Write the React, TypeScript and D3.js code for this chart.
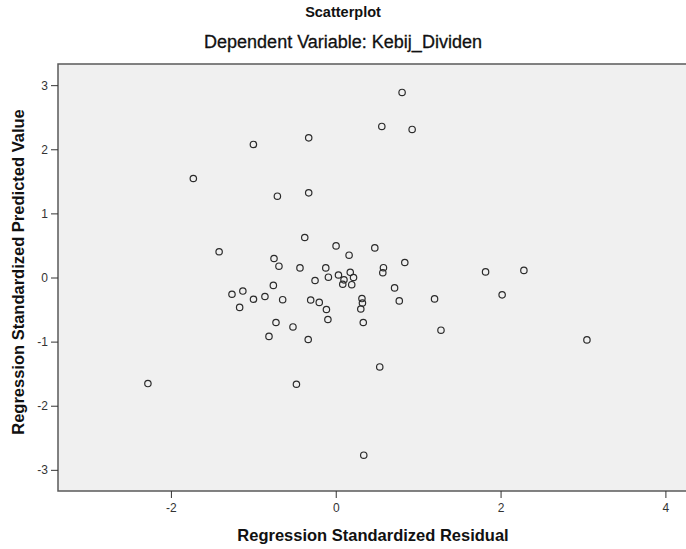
import React, { useEffect, useRef } from 'react';
import * as d3 from 'd3';

// Regression Standardized Residual (x) vs Regression Standardized Predicted Value (y)
const residuals: number[] = [
    -1.728, -1.415, 0.805, 0.559, 0.927, -0.328, -0.999, -0.708, -0.328, -0.376,
    0.004, 0.474, 0.162, -0.749, -0.689, -0.434, -0.121, 0.579, 0.571, 0.838,
    1.818, 2.283, -2.279, -1.259, -1.166, -0.251, -0.089, 0.033, 0.176, 0.216,
    0.100, 0.085, 0.194, -0.757, -1.127, -0.998, -0.859, -0.644, -0.304, -0.200,
    -0.113, -0.095, 0.318, 0.324, 0.304, 0.334, 0.714, 0.771, 1.199, 1.277,
    -0.725, -0.519, -0.810, -0.334, 0.534, -0.477, 0.340, 2.019, 3.048,
];
const predicted: number[] = [
    1.544, 0.402, 2.886, 2.356, 2.309, 2.178, 2.075, 1.268, 1.320, 0.624,
    0.493, 0.462, 0.348, 0.296, 0.176, 0.150, 0.150, 0.153, 0.075, 0.234,
    0.087, 0.111, -1.654, -0.261, -0.466, -0.047, 0.005, 0.039, 0.080, 0.000,
    -0.037, -0.105, -0.112, -0.123, -0.211, -0.339, -0.296, -0.346, -0.351, -0.388,
    -0.499, -0.655, -0.328, -0.398, -0.491, -0.702, -0.162, -0.365, -0.334, -0.822,
    -0.702, -0.771, -0.919, -0.967, -1.395, -1.665, -2.772, -0.271, -0.973,
];
const xTicks = [-2, 0, 2, 4];
const yTicks = [-3, -2, -1, 0, 1, 2, 3];

const App: React.FC = () => {
    const svgRef = useRef<SVGSVGElement>(null);

    useEffect(() => {
        if (!svgRef.current) return;
        const svg = d3.select(svgRef.current);
        svg.selectAll('*').remove();

        const width = 686;
        const height = 549;
        const margin = { top: 64, right: 0, bottom: 58, left: 58 };
        const font = 'Arial, "Liberation Sans", sans-serif';

        const x = d3.scaleLinear().domain([-3.37, 4.25]).range([margin.left, width - margin.right]);
        const y = d3.scaleLinear().domain([-3.33, 3.33]).range([height - margin.bottom, margin.top]);

        svg.append('rect').attr('width', width).attr('height', height).attr('fill', '#ffffff');

        // plot background
        svg.append('rect')
            .attr('x', margin.left)
            .attr('y', margin.top)
            .attr('width', width - margin.left + 10)
            .attr('height', y(-3.33) - y(3.33))
            .attr('fill', '#f0f0f0')
            .attr('stroke', '#5a5a5a')
            .attr('stroke-width', 1.5);

        // titles
        svg.append('text')
            .attr('x', 343).attr('y', 17)
            .attr('text-anchor', 'middle')
            .attr('fill', '#111')
            .style('font-family', font).style('font-weight', 'bold').style('font-size', '14.5px')
            .text('Scatterplot');
        svg.append('text')
            .attr('x', 343).attr('y', 48)
            .attr('text-anchor', 'middle')
            .attr('fill', '#111')
            .attr('stroke', '#111')
            .attr('stroke-width', 0.3)
            .style('font-family', font).style('font-size', '18px')
            .text('Dependent Variable: Kebij_Dividen');

        // x axis
        const xAxis = svg.append('g')
            .attr('transform', `translate(0,${height - margin.bottom})`)
            .call(d3.axisBottom(x).tickValues(xTicks).tickSize(7).tickPadding(5).tickFormat(d => String(d)));
        xAxis.select('.domain').remove();
        xAxis.selectAll('line').attr('stroke', '#333');
        xAxis.selectAll('text').attr('fill', '#333').style('font-family', font).style('font-size', '12px');

        // y axis
        const yAxis = svg.append('g')
            .attr('transform', `translate(${margin.left},0)`)
            .call(d3.axisLeft(y).tickValues(yTicks).tickSize(7).tickPadding(3).tickFormat(d => String(d)));
        yAxis.select('.domain').remove();
        yAxis.selectAll('line').attr('stroke', '#333');
        yAxis.selectAll('text').attr('fill', '#333').style('font-family', font).style('font-size', '12px');

        // axis labels
        svg.append('text')
            .attr('x', 373).attr('y', 541)
            .attr('text-anchor', 'middle')
            .attr('fill', '#111')
            .style('font-family', font).style('font-weight', 'bold').style('font-size', '16.5px')
            .text('Regression Standardized Residual');
        svg.append('text')
            .attr('transform', 'rotate(-90)')
            .attr('x', -272).attr('y', 24)
            .attr('text-anchor', 'middle')
            .attr('fill', '#111')
            .style('font-family', font).style('font-weight', 'bold').style('font-size', '16.5px')
            .text('Regression Standardized Predicted Value');

        // points
        svg.append('g')
            .selectAll('circle')
            .data(residuals.map((r, i) => ({ r, p: predicted[i] })))
            .join('circle')
            .attr('cx', d => x(d.r))
            .attr('cy', d => y(d.p))
            .attr('r', 3.2)
            .attr('fill', 'none')
            .attr('stroke', '#2b2b2b')
            .attr('stroke-width', 1.2);
    }, []);

    return (
        <div style={{ position: 'absolute', left: 0, top: 0 }}>
            <svg ref={svgRef} width={686} height={549} style={{ display: 'block' }} />
        </div>
    );
};

export default App;
